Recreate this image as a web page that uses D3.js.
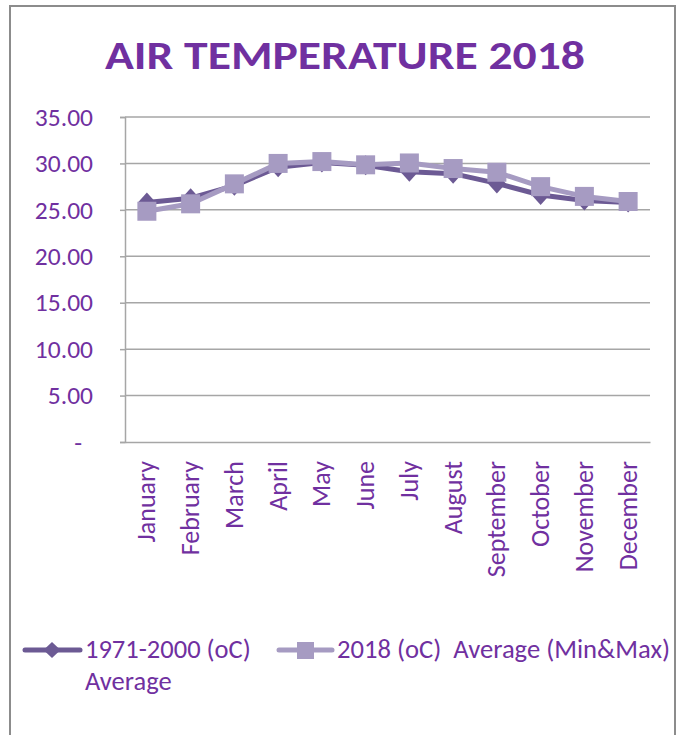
<!DOCTYPE html>
<html>
<head>
<meta charset="utf-8">
<script src="https://cdn.jsdelivr.net/npm/d3@7"></script>
<style>
  html, body { margin: 0; padding: 0; background: #fff; }
  svg { display: block; }
  text { font-family: Carlito, "Open Sans", sans-serif; fill: #7030A0; }
</style>
</head>
<body>
<svg id="chart" width="683" height="735"></svg>
<script>
const months = ["January","February","March","April","May","June","July","August","September","October","November","December"];
const avg1971 = [25.8, 26.25, 27.6, 29.6, 30.1, 29.8, 29.1, 28.9, 27.85, 26.6, 26.0, 25.8];
const avg2018 = [24.85, 25.65, 27.8, 30.0, 30.2, 29.85, 30.05, 29.45, 29.05, 27.5, 26.45, 25.9];
const yTicks = [0, 5, 10, 15, 20, 25, 30, 35];
const seriesNames = ["1971-2000 (oC) Average", "2018 (oC)  Average (Min&Max)"];
const title = "AIR TEMPERATURE 2018";

const c1 = "#6C5A94", c2 = "#A69BC2", grid = "#A6A6A6";
const svg = d3.select("#chart");

// outer frame
svg.append("path")
  .attr("d", "M10,740 L10,6 L675,6 L675,740")
  .attr("fill", "none").attr("stroke", "#8C8C8C").attr("stroke-width", 2);

// title
svg.append("text")
  .attr("x", 105).attr("y", 69)
  .attr("font-size", 41).attr("font-weight", "bold")
  .attr("textLength", 480).attr("lengthAdjust", "spacingAndGlyphs")
  .text(title);

const pLeft = 125, pRight = 650, pTop = 117, pBottom = 442;
const x = d3.scaleBand().domain(months).range([pLeft, pRight]);
const y = d3.scaleLinear().domain([0, 35]).range([pBottom, pTop]);

// gridlines
svg.append("g").selectAll("line").data(yTicks.filter(d => d > 0)).join("line")
  .attr("x1", pLeft).attr("x2", pRight)
  .attr("y1", d => y(d)).attr("y2", d => y(d))
  .attr("stroke", grid).attr("stroke-width", 1.5);

// y axis
const yAxis = d3.axisLeft(y).tickValues(yTicks).tickSize(5).tickPadding(27)
  .tickFormat(d => d === 0 ? "-" : d3.format(".2f")(d));
const gy = svg.append("g").attr("transform", `translate(${pLeft},0)`).call(yAxis);
gy.select(".domain").attr("stroke", grid).attr("stroke-width", 1.5);
gy.selectAll(".tick line").attr("stroke", grid).attr("stroke-width", 1.5);
gy.selectAll(".tick text").attr("font-size", 25.5).attr("fill", "#7030A0")
  .style("font-family", 'Carlito, "Open Sans", sans-serif')
  .attr("x", d => d === 0 ? -43 : -32);

// x axis
const xAxis = d3.axisBottom(x).tickSize(0).tickFormat(d => d);
const gx = svg.append("g").attr("transform", `translate(0,${pBottom})`).call(xAxis);
gx.select(".domain").attr("stroke", grid).attr("stroke-width", 1.5);
gx.selectAll(".tick text")
  .attr("font-size", 26).attr("fill", "#7030A0")
  .style("font-family", 'Carlito, "Open Sans", sans-serif')
  .attr("text-anchor", "end")
  .attr("transform", "rotate(-90)")
  .attr("x", -19).attr("y", 0).attr("dy", "0.33em");

// lines
const line = d3.line().x((d, i) => x(months[i]) + x.bandwidth() / 2).y(d => y(d));
svg.append("path").datum(avg1971).attr("d", line)
  .attr("fill", "none").attr("stroke", c1).attr("stroke-width", 5).attr("stroke-linejoin", "round");
svg.selectAll(".dia").data(avg1971).join("path").attr("class", "dia")
  .attr("transform", (d, i) => `translate(${x(months[i]) + x.bandwidth() / 2},${y(d)})`)
  .attr("d", "M0,-10 L9,0 L0,10 L-9,0 Z").attr("fill", c1);

svg.append("path").datum(avg2018).attr("d", line)
  .attr("fill", "none").attr("stroke", c2).attr("stroke-width", 5).attr("stroke-linejoin", "round");
svg.selectAll(".sq").data(avg2018).join("rect").attr("class", "sq")
  .attr("x", (d, i) => x(months[i]) + x.bandwidth() / 2 - 9.5)
  .attr("y", d => y(d) - 9.5)
  .attr("width", 19).attr("height", 19).attr("fill", c2);

// legend
const lg = svg.append("g");
lg.append("line").attr("x1", 25).attr("x2", 80).attr("y1", 650).attr("y2", 650)
  .attr("stroke", c1).attr("stroke-width", 5).attr("stroke-linecap", "round");
lg.append("path").attr("transform", "translate(52,650)").attr("d", "M0,-8 L8.5,0 L0,8 L-8.5,0 Z").attr("fill", c1);
lg.append("text").attr("x", 85).attr("y", 658).attr("font-size", 26.5).text("1971-2000 (oC)");
lg.append("text").attr("x", 85).attr("y", 690).attr("font-size", 26.5).text("Average");

lg.append("line").attr("x1", 279).attr("x2", 332).attr("y1", 650).attr("y2", 650)
  .attr("stroke", c2).attr("stroke-width", 5).attr("stroke-linecap", "round");
lg.append("rect").attr("x", 297).attr("y", 642).attr("width", 17).attr("height", 17).attr("fill", c2);
lg.append("text").attr("x", 337).attr("y", 658).attr("font-size", 26.5)
  .attr("textLength", 333).attr("lengthAdjust", "spacingAndGlyphs")
  .attr("xml:space", "preserve").style("white-space", "pre")
  .text("2018 (oC)  Average (Min&Max)");
</script>
</body>
</html>
